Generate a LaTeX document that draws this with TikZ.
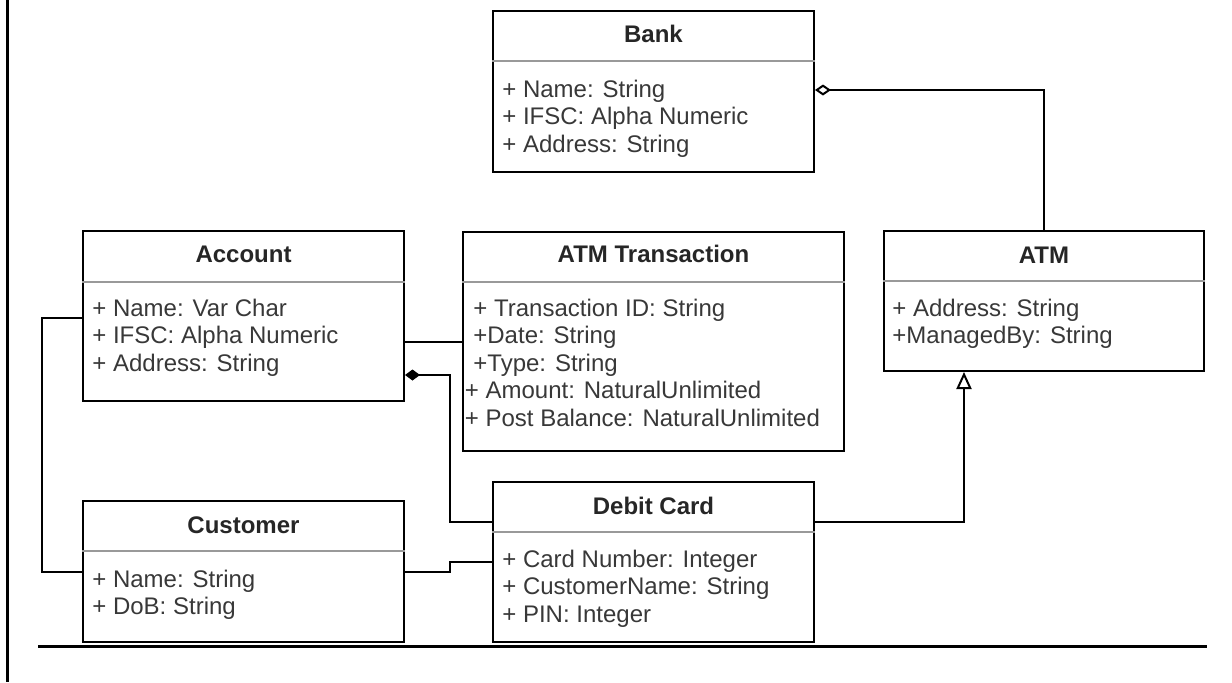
\documentclass[tikz,border=0pt]{standalone}
\usepackage{fontspec}
\setmainfont{Liberation Sans}
\usetikzlibrary{arrows.meta,fit,calc}
\begin{document}
\begin{tikzpicture}[x=0.5pt,y=-0.5pt,
  classbox/.style={draw=black, line width=1pt, inner sep=0pt},
  sepline/.style={draw=black!40, line width=0.7pt},
  title/.style={font=\bfseries\fontsize{12pt}{14pt}\selectfont, text=black!85, inner sep=0pt, anchor=center},
  attr/.style={font=\fontsize{12pt}{14pt}\selectfont, text=black!78, inner sep=0pt, anchor=base west},
  conn/.style={draw=black, line width=1pt},
  pageline/.style={draw=black, line width=1.5pt}]
\useasboundingbox (0,0) rectangle (1232,682);

% page lines
\coordinate (pl-top) at (7,0);
\coordinate (pl-bot) at (7,682);
\draw[pageline] (pl-top) -- (pl-bot);
\coordinate (hl-l) at (38,646);
\coordinate (hl-r) at (1207,646);
\draw[pageline] (hl-l) -- (hl-r);

% Bank
\node[classbox, fit={(493,11) (814,172)}] (bank) {};
\draw[sepline] (bank.west |- 0,61) -- (bank.east |- 0,61);
\node[title] (bank-t) at (653.5,34) {Bank};
\node[attr] (bank-a1) at (502,97) {+ Name: String};
\node[attr] (bank-a2) at (502,124.5) {+ IFSC: Alpha Numeric};
\node[attr] (bank-a3) at (502,152) {+ Address: String};

% Account
\node[classbox, fit={(83,231) (404,401)}] (account) {};
\draw[sepline] (account.west |- 0,282) -- (account.east |- 0,282);
\node[title] (account-t) at (243.5,254) {Account};
\node[attr] (account-a1) at (92,316) {+ Name: Var Char};
\node[attr] (account-a2) at (92,343.5) {+ IFSC: Alpha Numeric};
\node[attr] (account-a3) at (92,371) {+ Address: String};

% ATM Transaction
\node[classbox, fit={(463,232) (844,451)}] (trans) {};
\draw[sepline] (trans.west |- 0,282) -- (trans.east |- 0,282);
\node[title] (trans-t) at (653.5,254) {ATM Transaction};
\node[attr] (trans-a1) at (473,316) {+ Transaction ID: String};
\node[attr] (trans-a2) at (473,343.5) {+Date: String};
\node[attr] (trans-a3) at (473,371) {+Type: String};
\node[attr] (trans-a4) at (464.5,398.5) {+ Amount: NaturalUnlimited};
\node[attr] (trans-a5) at (464.5,426) {+ Post Balance: NaturalUnlimited};

% ATM
\node[classbox, fit={(884,231) (1204,371)}] (atm) {};
\draw[sepline] (atm.west |- 0,281) -- (atm.east |- 0,281);
\node[title] (atm-t) at (1044,255) {ATM};
\node[attr] (atm-a1) at (892,316) {+ Address: String};
\node[attr] (atm-a2) at (892,343.5) {+ManagedBy: String};

% Customer
\node[classbox, fit={(83,501) (404,642)}] (customer) {};
\draw[sepline] (customer.west |- 0,551) -- (customer.east |- 0,551);
\node[title] (customer-t) at (243.5,525) {Customer};
\node[attr] (customer-a1) at (92,587) {+ Name: String};
\node[attr] (customer-a2) at (92,614.5) {+ DoB: String};

% Debit Card
\node[classbox, fit={(493,482) (814,642)}] (debit) {};
\draw[sepline] (debit.west |- 0,532) -- (debit.east |- 0,532);
\node[title] (debit-t) at (653.5,506) {Debit Card};
\node[attr] (debit-a1) at (502,567) {+ Card Number: Integer};
\node[attr] (debit-a2) at (502,594.5) {+ CustomerName: String};
\node[attr] (debit-a3) at (502,622) {+ PIN: Integer};

% connectors
\draw[conn, {Diamond[open,length=8pt,width=5.5pt]}-] ([yshift=0.75pt]bank.east) -| (atm.north);
\draw[conn] ([yshift=-13pt]account.east) -- ([yshift=-13pt]account.east -| trans.west);
\draw[conn, {Diamond[length=7.5pt,width=5.5pt]}-] ([yshift=-29.5pt]account.east) -- ++(45,0) |- ([yshift=20pt]debit.west);
\draw[conn] ([yshift=-1pt]account.west) -- ++(-40,0) |- (customer.west);
\draw[conn] (customer.east) -- ++(45,0) |- (debit.west);
\draw[conn, -{Triangle[open,length=8.5pt,width=7.5pt]}] ([yshift=20pt]debit.east) -| ([xshift=-40pt]atm.south);
\end{tikzpicture}
\end{document}
